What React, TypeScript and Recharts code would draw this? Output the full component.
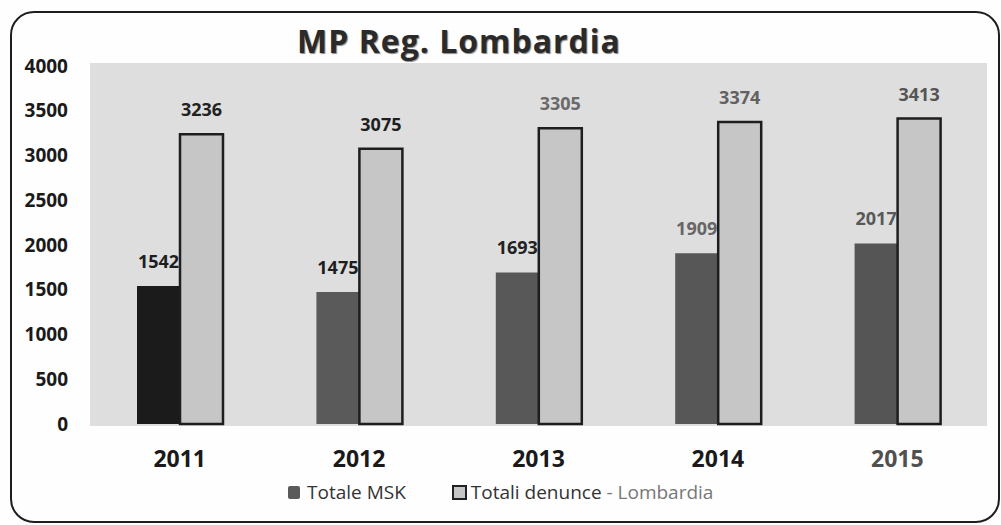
import { BarChart, Bar, XAxis, YAxis, CartesianGrid, Cell, LabelList, Legend } from "recharts";

const years = ["2011", "2012", "2013", "2014", "2015"];
const totaleMsk = [1542, 1475, 1693, 1909, 2017];
const totaliDenunce = [3236, 3075, 3305, 3374, 3413];
const yTicks = [0, 500, 1000, 1500, 2000, 2500, 3000, 3500, 4000];

// colours as they come out of the scan
const mskColors = ["#1b1b1b", "#5a5a5a", "#585858", "#575757", "#555555"];
const mskLabelColors = ["#1e1e1e", "#1e1e1e", "#222222", "#666666", "#595959"];
const denLabelColors = ["#222222", "#1e1e1e", "#6a6a6a", "#616161", "#555555"];
const yearColors = ["#1a1a1a", "#1a1a1a", "#1a1a1a", "#1a1a1a", "#505050"];

const data = years.map((y, i) => ({
  year: y,
  msk: totaleMsk[i],
  den: totaliDenunce[i],
}));

const FONT = "'Open Sans', 'DejaVu Sans', sans-serif";

const makeLabel = (colors: string[]) => (props: any) => {
  const { x, y, width, value, index } = props;
  return (
    <text
      x={x + width / 2}
      y={y - 18}
      textAnchor="middle"
      fontFamily={FONT}
      fontWeight={700}
      fontSize={18}
      fill={colors[index]}
    >
      {value}
    </text>
  );
};

const YearTick = (props: any) => {
  const { x, y, payload, index } = props;
  return (
    <text
      x={x}
      y={y}
      dy={16}
      textAnchor="middle"
      fontFamily={FONT}
      fontWeight={700}
      fontSize={23}
      fill={yearColors[index] || "#1a1a1a"}
    >
      {payload.value}
    </text>
  );
};

const LegendContent = () => (
  <div style={{ display: "flex", alignItems: "center", fontFamily: FONT, fontSize: 19, color: "#333" }}>
    <span style={{ width: 12, height: 13, background: "#5a5a5a", borderRadius: 2, marginRight: 7, display: "inline-block" }} />
    <span style={{ marginRight: 46 }}>Totale MSK</span>
    <span style={{ width: 11, height: 11, background: "#c6c6c6", border: "2px solid #222", marginRight: 4, display: "inline-block" }} />
    <span>
      Totali denunce <span style={{ color: "#777" }}>- Lombardia</span>
    </span>
  </div>
);

export default function App() {
  return (
    <div style={{ position: "absolute", left: 0, top: 0, width: 1001, height: 525, background: "#fefefe" }}>
      <div
        style={{
          position: "absolute",
          left: 10,
          top: 11,
          width: 986,
          height: 508,
          border: "2px solid #1e1e1e",
          borderRadius: 24,
        }}
      />
      <div
        style={{
          position: "absolute",
          left: 0,
          width: 918,
          top: 19,
          textAlign: "center",
          fontFamily: FONT,
          fontWeight: 700,
          fontSize: 32,
          letterSpacing: 1,
          color: "#2a2a2a",
          textShadow: "1px 1px 1px #8a8a8a",
        }}
      >
        MP Reg. Lombardia
      </div>
      <BarChart
        width={1001}
        height={525}
        data={data}
        margin={{ top: 63, right: 14, bottom: 69, left: 8 }}
        barGap={0}
        barSize={43}
        style={{ position: "absolute", left: 0, top: 0 }}
      >
        <CartesianGrid horizontal={false} vertical={false} fill="#dedede" />
        <XAxis
          dataKey="year"
          height={30}
          axisLine={false}
          tickLine={false}
          tickSize={0}
          tickMargin={25}
          tick={<YearTick />}
        />
        <YAxis
          width={82}
          domain={[-22, 4033]}
          ticks={yTicks}
          axisLine={false}
          tickLine={false}
          tickSize={0}
          tickMargin={22}
          tick={{ fontFamily: FONT, fontWeight: 700, fontSize: 19, fill: "#1a1a1a" }}
        />
        <Legend
          verticalAlign="middle"
          content={<LegendContent />}
          wrapperStyle={{ left: 288, top: 479, width: 480 }}
        />
        <Bar dataKey="msk" name="Totale MSK" isAnimationActive={false}>
          {data.map((d, i) => (
            <Cell key={d.year} fill={mskColors[i]} />
          ))}
          <LabelList dataKey="msk" content={makeLabel(mskLabelColors)} />
        </Bar>
        <Bar
          dataKey="den"
          name="Totali denunce - Lombardia"
          fill="#c6c6c6"
          stroke="#1e1e1e"
          strokeWidth={2.5}
          isAnimationActive={false}
        >
          <LabelList dataKey="den" content={makeLabel(denLabelColors)} />
        </Bar>
      </BarChart>
    </div>
  );
}
